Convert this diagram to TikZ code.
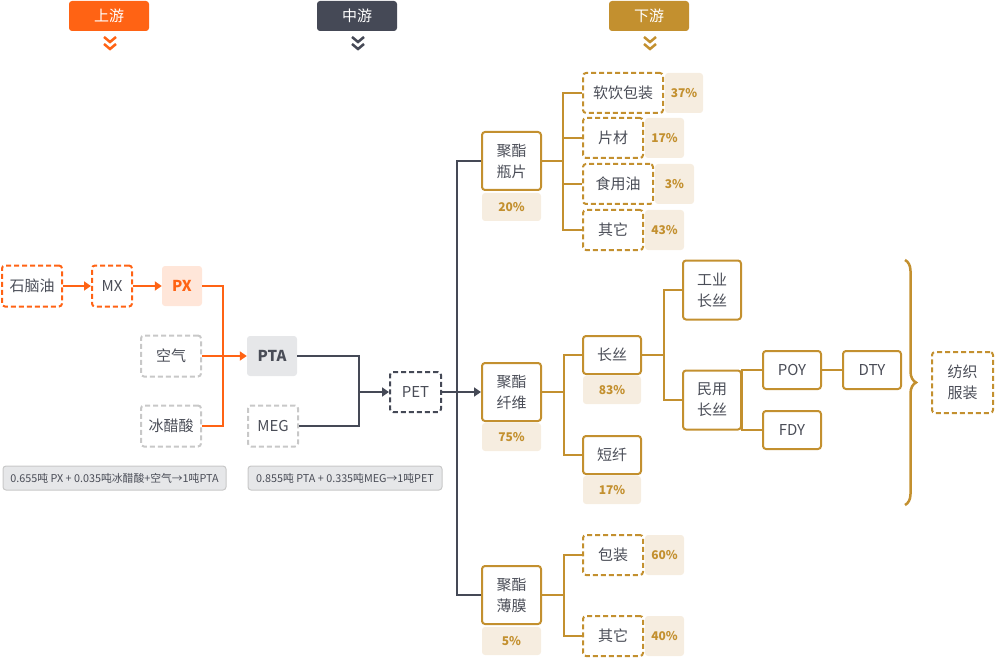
\documentclass[tikz,border=0pt]{standalone}
\usepackage{fontspec}
\setmainfont{Noto Sans CJK SC}
\usetikzlibrary{arrows.meta,positioning,decorations.pathreplacing}
\definecolor{upc}{HTML}{FF6314}
\definecolor{midc}{HTML}{454956}
\definecolor{downc}{HTML}{C3902F}
\definecolor{txtc}{HTML}{4A4D57}
\definecolor{beige}{HTML}{F6EDE0}
\definecolor{peach}{HTML}{FFE6D9}
\definecolor{lgray}{HTML}{C8C8C8}
\definecolor{fgray}{HTML}{E6E7E9}

\begin{document}
\begin{tikzpicture}[
    x=1pt, y=-1pt,
    every node/.style={inner sep=0pt, text=txtc, font=\fontsize{15}{21}\selectfont, align=center},
    head/.style={fill=#1, rounded corners=3pt, minimum width=80pt, minimum height=30pt, text=white},
    chev/.style={draw=#1, line width=2.5pt},
    box/.style={draw=#1, line width=2pt, rounded corners=3pt, minimum height=41pt},
    dbox/.style={box=#1, dash pattern=on 5pt off 3pt},
    pct/.style={fill=beige, rounded corners=3pt, minimum height=28pt, text=downc, font=\fontsize{12}{14}\selectfont\bfseries},
    note/.style={draw=lgray, fill=fgray, line width=1pt, rounded corners=3pt, minimum height=24pt, font=\fontsize{10.8}{12}\selectfont},
    oline/.style={draw=upc, line width=2pt},
    dline/.style={draw=midc, line width=2pt},
    gline/.style={draw=downc, line width=2pt},
    arr/.style={-{Triangle[length=7pt,width=9pt]}}
]
\useasboundingbox (0,0) rectangle (1000,660);

\node[head=upc] (hup) at (109,16) {上游};
\node[head=midc] (hmid) at (357,16) {中游};
\node[head=downc] (hdown) at (649,16) {下游};
\foreach \x/\c in {110/upc,358/midc,650/downc}{
  \draw[chev=\c] (\x-6,37) -- (\x,42) -- (\x+6,37);
  \draw[chev=\c] (\x-6,44) -- (\x,49) -- (\x+6,44);
}

\node[dbox=upc, minimum width=60pt] (naph) at (32,286) {石脑油};
\node[dbox=upc, minimum width=40pt] (mx) at (112,286) {MX};
\node[fill=peach, rounded corners=3pt, minimum width=40pt, minimum height=40pt, text=upc, font=\fontsize{15}{21}\selectfont\bfseries] (px) at (182,286) {PX};
\node[dbox=lgray, minimum width=60pt] (air) at (171,356) {空气};
\node[dbox=lgray, minimum width=60pt] (ice) at (171,426) {冰醋酸};
\node[fill=fgray, rounded corners=3pt, minimum width=50pt, minimum height=40pt, font=\fontsize{15}{21}\selectfont\bfseries] (pta) at (272,356) {PTA};
\node[dbox=lgray, minimum width=50pt] (meg) at (273,426) {MEG};
\node[note, minimum width=223pt] (f1) at (114.5,478) {0.655吨 PX + 0.035吨冰醋酸+空气→1吨PTA};
\node[note, minimum width=194pt] (f2) at (345,478) {0.855吨 PTA + 0.335吨MEG→1吨PET};
\node[dbox=midc, minimum width=51pt, minimum height=40pt] (pet) at (415.5,392) {PET};

\node[box=downc, minimum width=59pt, minimum height=58pt] (bottle) at (511.5,161) {聚酯\\瓶片};
\node[pct, minimum width=59pt] (p20) at (511.5,207) {20\%};
\node[dbox=downc, minimum width=80pt, minimum height=40pt] (soft) at (623,93) {软饮包装};
\node[pct, minimum width=38pt, minimum height=40pt] (p37) at (684,93) {37\%};
\node[dbox=downc, minimum width=60pt, minimum height=40pt] (sheet) at (613,138) {片材};
\node[pct, minimum width=39pt, minimum height=40pt] (p17a) at (664.5,138) {17\%};
\node[dbox=downc, minimum width=70pt, minimum height=40pt] (oil) at (618,184) {食用油};
\node[pct, minimum width=39pt, minimum height=40pt] (p3) at (674.5,184) {3\%};
\node[dbox=downc, minimum width=60pt, minimum height=40pt] (otha) at (613,230) {其它};
\node[pct, minimum width=39pt, minimum height=40pt] (p43) at (664.5,230) {43\%};

\node[box=downc, minimum width=59pt, minimum height=58pt] (fiber) at (511.5,392) {聚酯\\纤维};
\node[pct, minimum width=59pt] (p75) at (511.5,437) {75\%};
\node[box=downc, minimum width=58pt, minimum height=38pt] (fila) at (612,355) {长丝};
\node[pct, minimum width=58pt] (p83) at (612,390) {83\%};
\node[box=downc, minimum width=58pt, minimum height=38pt] (stap) at (612,455) {短纤};
\node[pct, minimum width=58pt] (p17b) at (612,490) {17\%};
\node[box=downc, minimum width=58pt, minimum height=59pt] (ind) at (712,290) {工业\\长丝};
\node[box=downc, minimum width=58pt, minimum height=59pt] (civ) at (712,400) {民用\\长丝};
\node[box=downc, minimum width=58pt, minimum height=38pt] (poy) at (792,370) {POY};
\node[box=downc, minimum width=58pt, minimum height=38pt] (fdy) at (792,430) {FDY};
\node[box=downc, minimum width=58pt, minimum height=38pt] (dty) at (872,370) {DTY};
\node[dbox=downc, minimum width=61pt, minimum height=61pt] (tex) at (962.5,382.5) {纺织\\服装};

\node[box=downc, minimum width=59pt, minimum height=58pt] (film) at (511.5,595) {聚酯\\薄膜};
\node[pct, minimum width=59pt] (p5) at (511.5,641) {5\%};
\node[dbox=downc, minimum width=60pt, minimum height=40pt] (pack) at (613,555) {包装};
\node[pct, minimum width=39pt, minimum height=40pt] (p60) at (664.5,555) {60\%};
\node[dbox=downc, minimum width=60pt, minimum height=40pt] (othb) at (613,636) {其它};
\node[pct, minimum width=39pt, minimum height=40pt] (p40) at (664.5,636) {40\%};

\draw[oline, arr] (naph) -- (mx);
\draw[oline, arr] (mx) -- (px);
\draw[oline] (px.east) -- ++(21,0) |- (ice.east);
\draw[oline, arr] (air) -- (pta);

\draw[dline] (pta.east) -- ++(62,0) coordinate (jpet) |- (meg.east);
\draw[dline, arr] (jpet |- pet.west) -- (pet.west);
\draw[dline, arr] (pet) -- (fiber);
\draw[dline] (bottle.west) -- ++(-24,0) |- (film.west);

\draw[gline] (bottle.east) -- ++(21,0) coordinate (jb);
\foreach \n in {soft,sheet,oil,otha} \draw[gline] (jb) |- (\n.west);
\draw[gline] (fiber.east) -- ++(22,0) coordinate (jf);
\foreach \n in {fila,stap} \draw[gline] (jf) |- (\n.west);
\draw[gline] (fila.east) -- ++(22,0) coordinate (jl);
\foreach \n in {ind,civ} \draw[gline] (jl) |- (\n.west);
\draw[gline] (poy.west) -| (civ.east) |- (fdy.west);
\draw[gline] (poy) -- (dty);
\draw[gline] (film.east) -- ++(22,0) coordinate (jm);
\foreach \n in {pack,othb} \draw[gline] (jm) |- (\n.west);

\draw[downc, line width=2.5pt, decorate, decoration={brace, amplitude=11pt}] (905,260) -- (905,505);
\end{tikzpicture}
\end{document}
